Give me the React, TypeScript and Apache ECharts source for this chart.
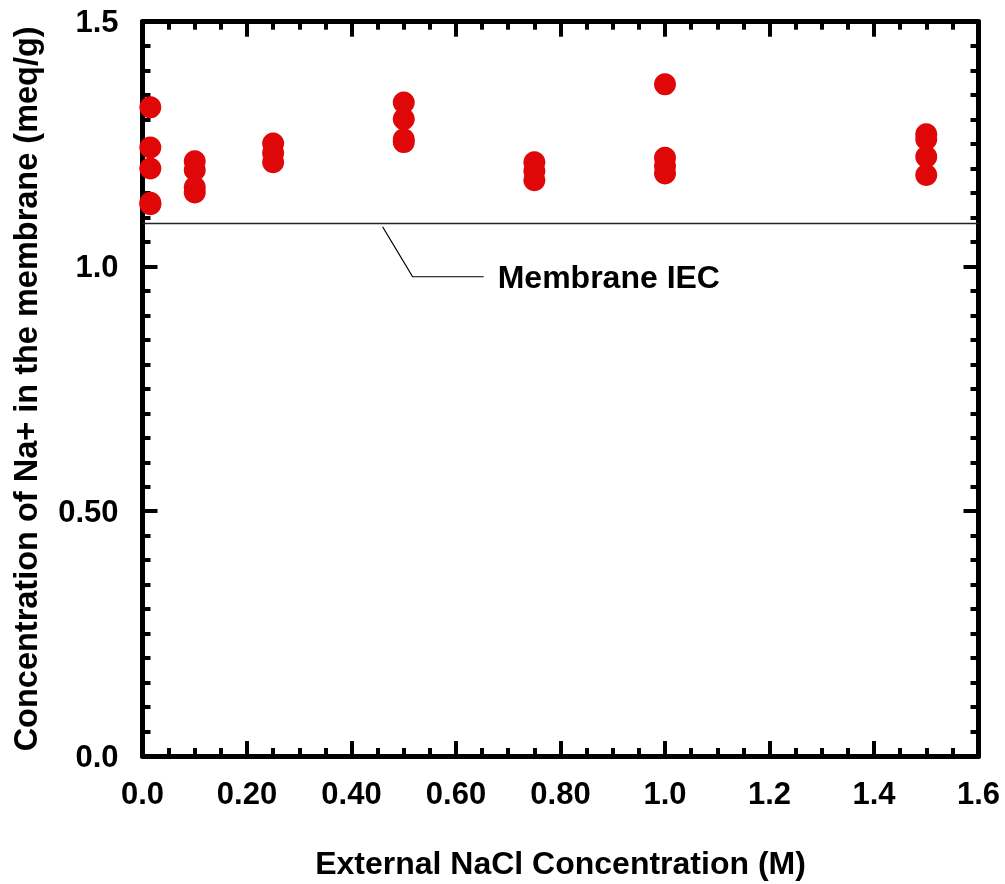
import React, { useEffect, useRef } from "react";
import * as echarts from "echarts";

const concentrations = [0.015, 0.1, 0.25, 0.5, 0.75, 1.0, 1.5];
const naValues: number[][] = [
  [1.325, 1.243, 1.2, 1.13, 1.127],
  [1.215, 1.197, 1.162, 1.151],
  [1.251, 1.232, 1.213],
  [1.335, 1.301, 1.26, 1.254],
  [1.213, 1.195, 1.176],
  [1.372, 1.222, 1.205, 1.19],
  [1.27, 1.26, 1.224, 1.187],
];
const membraneIEC = 1.088;
const iecLabel = "Membrane IEC";
const leaderLine: [number, number][] = [
  [0.4595, 1.081],
  [0.517, 0.979],
  [0.653, 0.979],
];
const xTickLabels: Record<string, string> = {
  "0": "0.0", "0.2": "0.20", "0.4": "0.40", "0.6": "0.60", "0.8": "0.80",
  "1": "1.0", "1.2": "1.2", "1.4": "1.4", "1.6": "1.6",
};
const yTickLabels: Record<string, string> = {
  "0": "0.0", "0.5": "0.50", "1": "1.0", "1.5": "1.5",
};
const xTitle = "External NaCl Concentration (M)";
const yTitle = "Concentration of Na+ in the membrane (meq/g)";

const FONT = "'Liberation Sans', Arial, Helvetica, sans-serif";

export default function App() {
  const ref = useRef<HTMLDivElement>(null);
  useEffect(() => {
    if (!ref.current) return;
    const chart = echarts.init(ref.current, null, { renderer: "svg" });
    const points: [number, number][] = [];
    concentrations.forEach((c, i) => naValues[i].forEach((v) => points.push([c, v])));
    const axisLine = { show: true, onZero: false, lineStyle: { color: "#000", width: 5 } };
    const tick = (len: number) => ({ show: true, inside: true, length: len, lineStyle: { color: "#000", width: 4 } });
    const minor = (n: number) => ({ show: true, splitNumber: n, length: 8, lineStyle: { color: "#000", width: 4 } });
    const textStyle = { fontFamily: FONT, fontWeight: "bold" as const, fontSize: 31, color: "#000" };
    chart.setOption({
      animation: false,
      grid: { left: 142.5, right: 26.5, top: 21.7, bottom: 127 },
      xAxis: [
        {
          type: "value", min: 0, max: 1.6, interval: 0.2,
          axisLine, axisTick: tick(15), minorTick: minor(4), splitLine: { show: false },
          axisLabel: { ...textStyle, margin: 22, formatter: (v: number) => xTickLabels[String(+v.toFixed(2))] ?? "" },
          name: xTitle, nameLocation: "middle", nameGap: 91,
          nameTextStyle: { ...textStyle, fontSize: 32 },
        },
        {
          type: "value", position: "top", min: 0, max: 1.6, interval: 0.2,
          axisLine, axisTick: tick(15), minorTick: minor(4), splitLine: { show: false },
          axisLabel: { show: false },
        },
      ],
      yAxis: [
        {
          type: "value", min: 0, max: 1.5, interval: 0.5,
          axisLine, axisTick: tick(15), minorTick: minor(10), splitLine: { show: false },
          axisLabel: { ...textStyle, margin: 24, formatter: (v: number) => yTickLabels[String(+v.toFixed(2))] ?? "" },
          name: yTitle, nameLocation: "middle", nameGap: 100,
          nameTextStyle: { ...textStyle, fontSize: 32.5 },
        },
        {
          type: "value", position: "right", min: 0, max: 1.5, interval: 0.5,
          axisLine, axisTick: tick(15), minorTick: minor(10), splitLine: { show: false },
          axisLabel: { show: false },
        },
      ],
      series: [
        {
          type: "line", data: [[0, membraneIEC], [1.6, membraneIEC]], symbol: "none",
          lineStyle: { color: "#222", width: 1.5 }, silent: true, z: 1,
        },
        {
          type: "line", data: leaderLine, symbol: "none",
          lineStyle: { color: "#000", width: 1.2 }, silent: true, z: 1,
          endLabel: {
            show: true, formatter: () => iecLabel, distance: 14,
            fontFamily: FONT, fontWeight: "bold", fontSize: 32, color: "#000",
          },
        },
        {
          type: "scatter", data: points, symbol: "circle", symbolSize: 22,
          itemStyle: { color: "#df0707", opacity: 1 }, z: 3,
        },
      ],
    });
    return () => chart.dispose();
  }, []);
  return <div ref={ref} style={{ position: "fixed", left: 0, top: 0, width: 1005, height: 884 }} />;
}
